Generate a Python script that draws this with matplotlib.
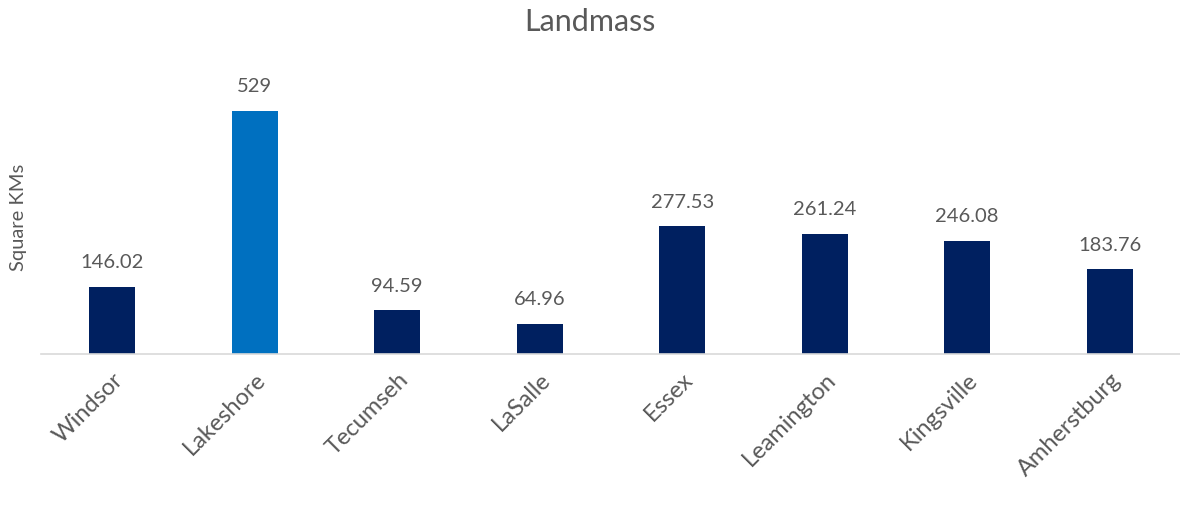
#!/usr/bin/env python3
"""
Bar chart of landmass per municipality.
"""
import matplotlib
matplotlib.use("Agg")
import matplotlib.pyplot as plt

towns = ["Windsor", "Lakeshore", "Tecumseh", "LaSalle", "Essex",
         "Leamington", "Kingsville", "Amherstburg"]
area_km2 = [146.02, 529, 94.59, 64.96, 277.53, 261.24, 246.08, 183.76]
value_labels = ["146.02", "529", "94.59", "64.96", "277.53",
                "261.24", "246.08", "183.76"]
highlight = "Lakeshore"

plt.rcParams["font.family"] = ["Lato", "DejaVu Sans"]
text_grey = "#595959"

fig = plt.figure(figsize=(11.8, 5.06), dpi=100)
ax = fig.add_axes([41 / 1180, 1 - 355 / 506, 1140 / 1180, 276 / 506])

colors = ["#0070C0" if t == highlight else "#002060" for t in towns]
bars = ax.bar(range(len(towns)), area_km2, width=0.32, color=colors)

for bar, lab in zip(bars, value_labels):
    ax.annotate(lab, (bar.get_x() + bar.get_width() / 2, bar.get_height()),
                xytext=(0, 12), textcoords="offset points",
                ha="center", va="bottom", fontsize=14.5, color=text_grey)

ax.set_xlim(-0.5, len(towns) - 0.5)
ax.set_ylim(0, 600)
ax.set_yticks([])
ax.set_xticks(range(len(towns)))
ax.set_xticklabels(towns, rotation=45, ha="right", rotation_mode="anchor",
                   fontsize=17, color=text_grey)
ax.tick_params(axis="x", length=0, pad=10)

for side in ["top", "right", "left"]:
    ax.spines[side].set_visible(False)
ax.spines["bottom"].set_color("#d9d9d9")
ax.spines["bottom"].set_linewidth(1.2)

ax.set_ylabel("Square KMs", fontsize=14.5, color=text_grey, labelpad=10)
fig.text(0.5, 1 - 22 / 506, "Landmass", ha="center", va="center",
         fontsize=22, color=text_grey)

fig.savefig("out.png", dpi=100)
